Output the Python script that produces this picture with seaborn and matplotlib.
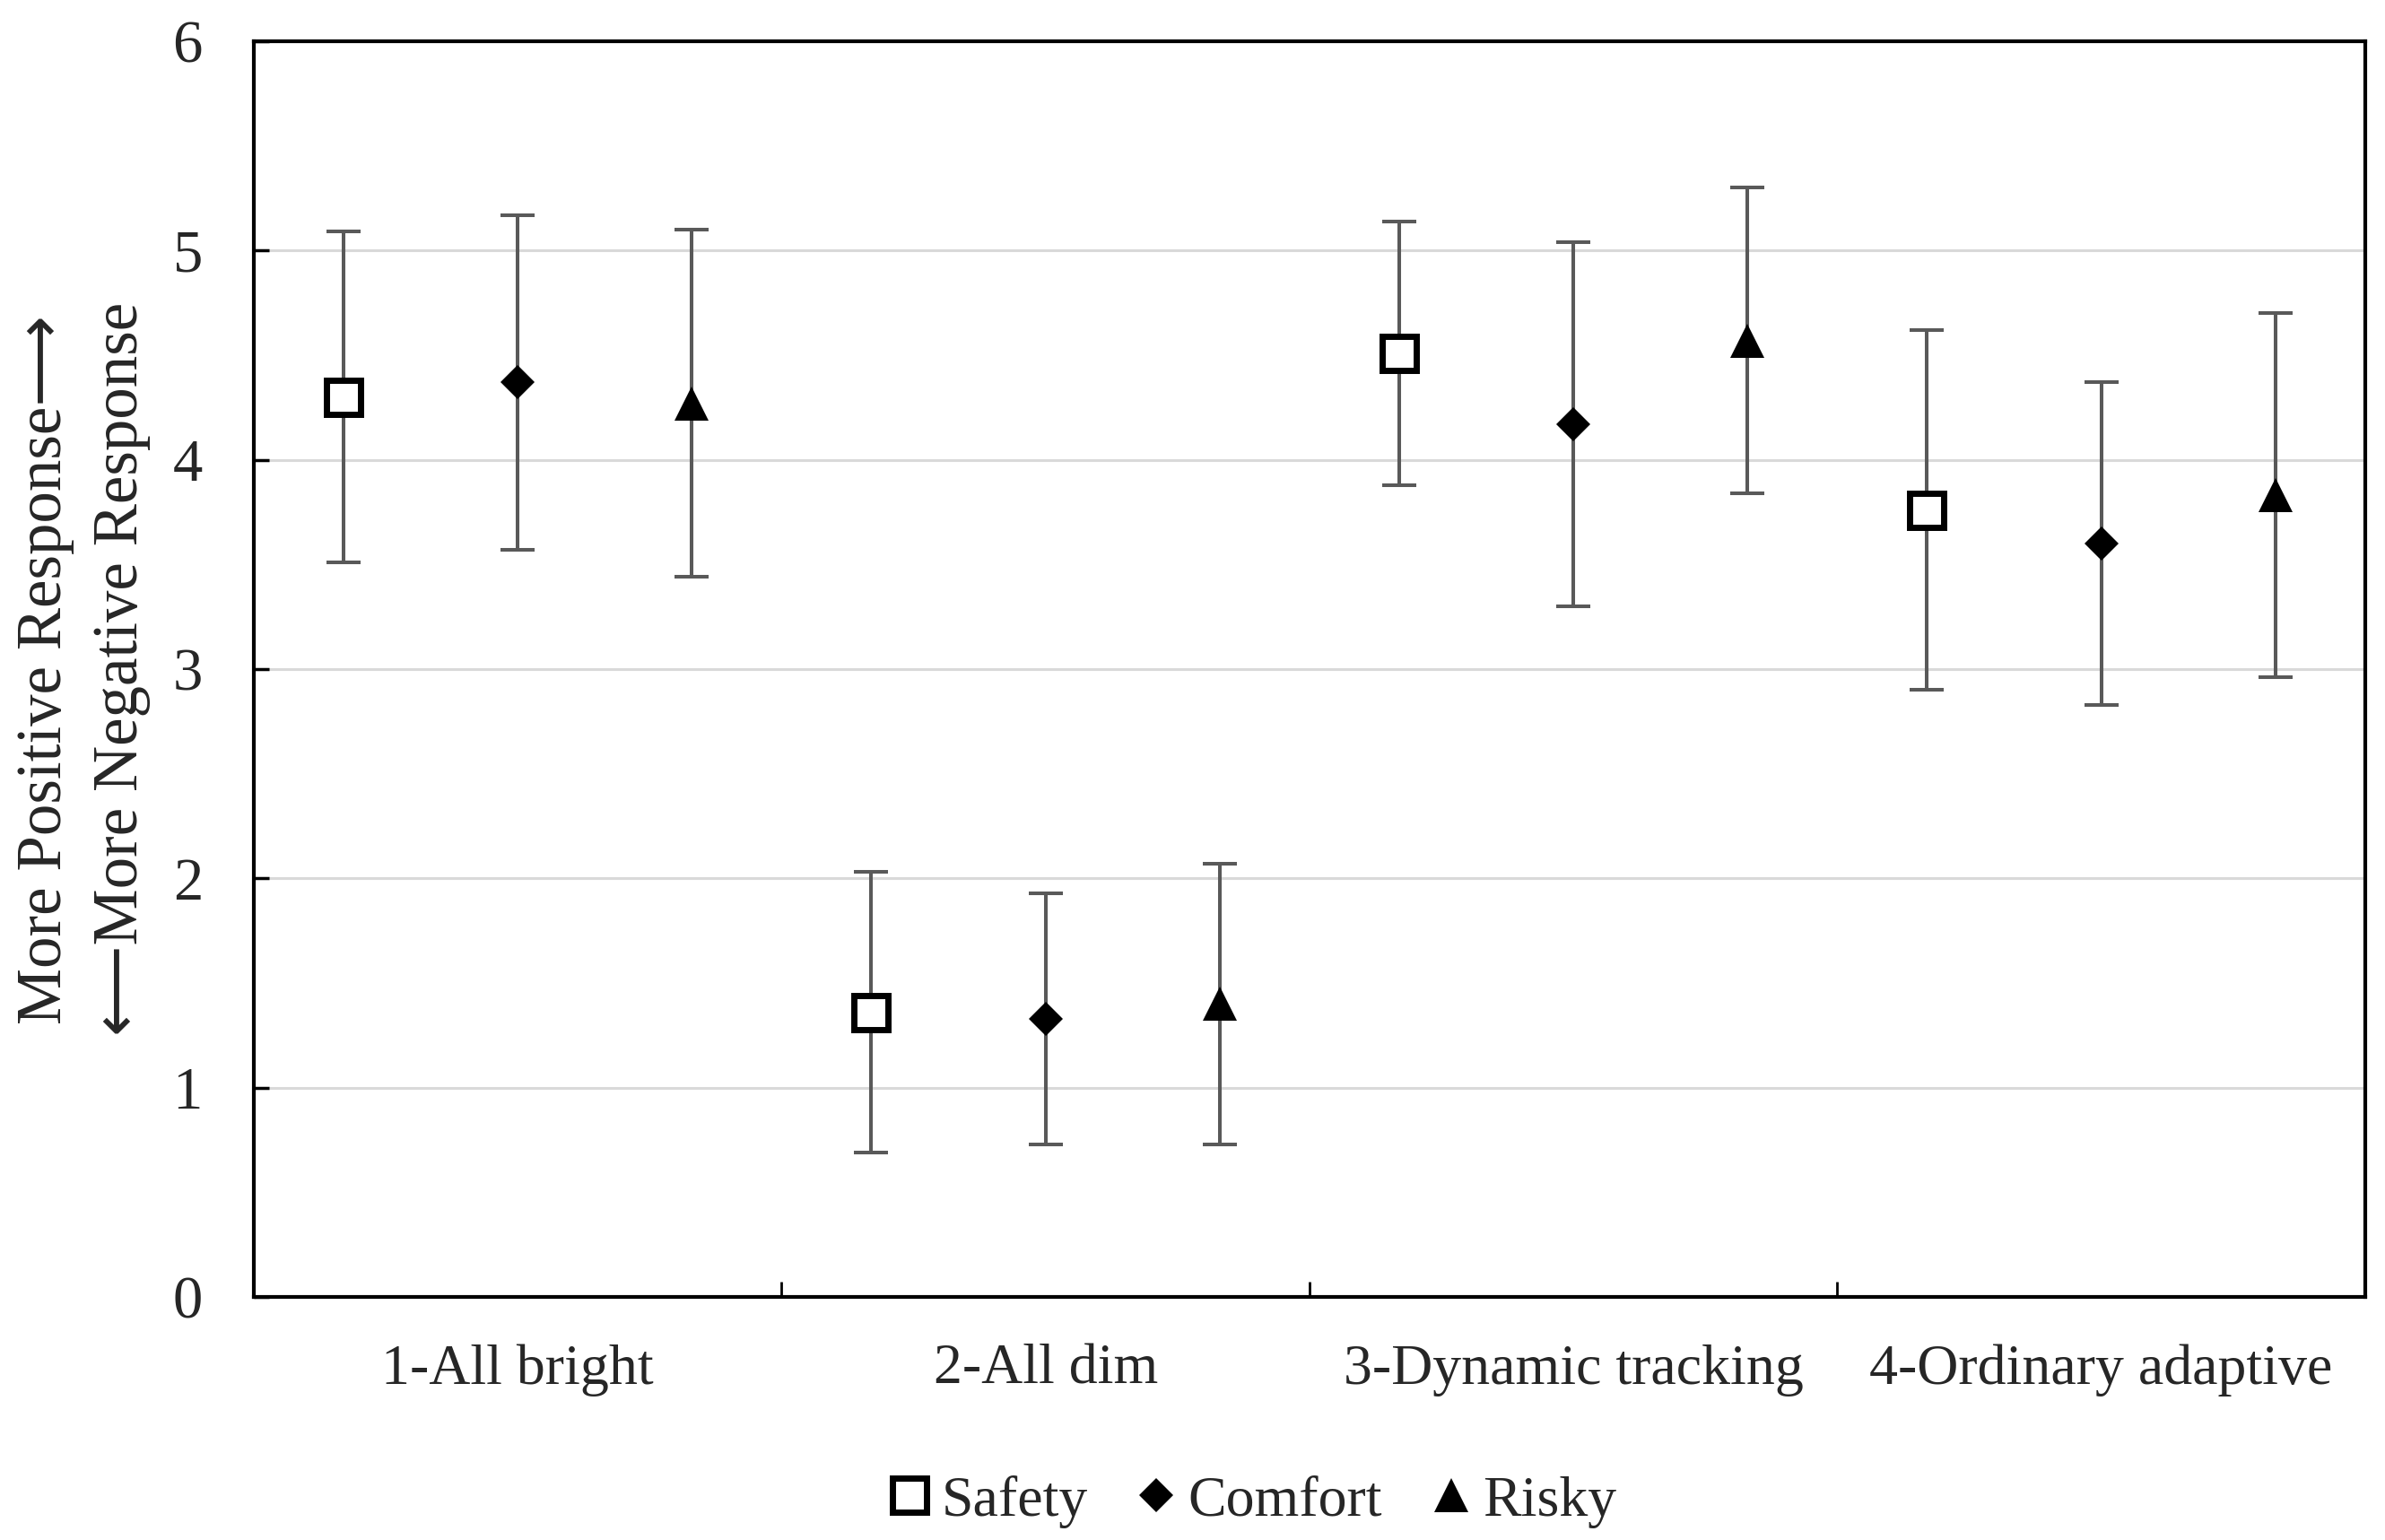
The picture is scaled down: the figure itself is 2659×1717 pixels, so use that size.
import matplotlib
matplotlib.use("Agg")
import matplotlib.pyplot as plt
import seaborn as sns
import pandas as pd

# Set style and fonts (serif, Times-like)
sns.set_style("white")
plt.rcParams['font.family'] = ['Liberation Serif', 'DejaVu Sans']

modes = ["1-All bright", "2-All dim", "3-Dynamic tracking", "4-Ordinary adaptive"]
groups = ["Safety", "Comfort", "Risky"]

safety_mean = [4.30, 1.36, 4.51, 3.76]
safety_sd = [0.79, 0.67, 0.63, 0.86]
comfort_mean = [4.37, 1.33, 4.17, 3.60]
comfort_sd = [0.80, 0.60, 0.87, 0.77]
risky_mean = [4.27, 1.40, 4.57, 3.83]
risky_sd = [0.83, 0.67, 0.73, 0.87]

y_label = "More Positive Response\u27f6\n\u27f5More Negative Response"

rows = []
for g, means in zip(groups, [safety_mean, comfort_mean, risky_mean]):
    for m, v in zip(modes, means):
        rows.append({"mode": m, "group": g, "score": v})
df = pd.DataFrame(rows)

fig = plt.figure(figsize=(26.59, 17.17), dpi=100)
ax = fig.add_axes([0.1064, 0.1578, 0.8853, 0.8154])

sns.pointplot(data=df, x="mode", y="score", hue="group",
              order=modes, hue_order=groups,
              palette={g: "black" for g in groups},
              markers=["s", "D", "^"], linestyles="none",
              dodge=0.66, errorbar=None, legend=False, ax=ax)

point_lines = list(ax.lines)
marker_styles = {
    "Safety": dict(markersize=28, markerfacecolor="white", markeredgecolor="black", markeredgewidth=5),
    "Comfort": dict(markersize=19, markerfacecolor="black", markeredgecolor="black", markeredgewidth=0),
    "Risky": dict(markersize=27, markerfacecolor="black", markeredgecolor="black", markeredgewidth=0),
}
for line, g in zip(point_lines, groups):
    line.set(**marker_styles[g])
    line.set_zorder(5)

# error bars (SD) at the dodged positions of the points
for line, sd in zip(point_lines, [safety_sd, comfort_sd, risky_sd]):
    ax.errorbar(line.get_xdata(), line.get_ydata(), yerr=sd, fmt="none",
                ecolor="#595959", elinewidth=2.9, capsize=13.7, capthick=2.9,
                zorder=3)

ax.set_xlim(-0.5, 3.5)
ax.set_ylim(0, 6)
ax.set_yticks(range(0, 7))
ax.set_xticks([0.5, 1.5, 2.5], minor=True)
ax.set_xlabel("")
ax.set_ylabel("")

ax.tick_params(axis="x", which="major", bottom=True, length=0, pad=38, labelsize=46)
ax.tick_params(axis="x", which="minor", bottom=True, direction="in",
               length=12, width=2, color="black")
ax.tick_params(axis="y", left=True, direction="in", length=12, width=2.5,
               pad=41, labelsize=48, color="black")

ax.yaxis.grid(True, color="#d9d9d9", linewidth=2.2)
ax.set_axisbelow(True)
for s in ax.spines.values():
    s.set_visible(True)
    s.set_color("black")
    s.set_linewidth(3)

fig.text(0.035, 0.5655, y_label, rotation=90, ha="center", va="center",
         fontsize=51, multialignment="center", linespacing=1.4)

fig.legend(handles=point_lines, labels=groups, loc="center",
           bbox_to_anchor=(0.5248, 0.025), ncol=3, frameon=False,
           handlelength=0.8, handletextpad=0.15, columnspacing=0.8,
           fontsize=46)

fig.savefig("out.png", dpi=100)
